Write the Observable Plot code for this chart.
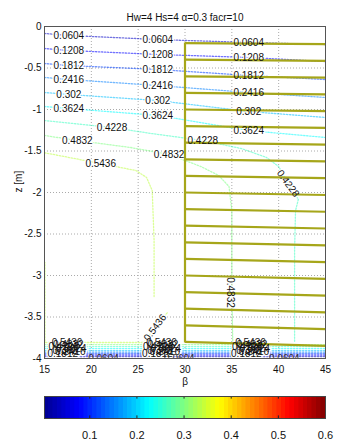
<!DOCTYPE html>
<html>
<head>
<meta charset="utf-8">
<script src="https://cdn.jsdelivr.net/npm/d3@7"></script>
<script src="https://cdn.jsdelivr.net/npm/@observablehq/plot@0.6"></script>
<style>
  body { margin: 0; background: #fff; }
  #chart svg { display: block; }
</style>
</head>
<body>
<div id="chart"></div>
<script>
// Contour levels of the field and axis ticks
const levels = [0.0604, 0.1208, 0.1812, 0.2416, 0.302, 0.3624, 0.4228, 0.4832, 0.5436];
const xTicks = [15, 20, 25, 30, 35, 40, 45];
const yTicks = [0, -0.5, -1, -1.5, -2, -2.5, -3, -3.5, -4];
const xGrid = [20, 25, 30, 35, 40];
const yGrid = [-0.5, -1, -1.5, -2, -2.5, -3, -3.5];
const barTicks = [0.1, 0.2, 0.3, 0.4, 0.5, 0.6];
const barTickLabels = ["0.1", "0.2", "0.3", "0.4", "0.5", "0.6"];

// Contour polylines, [β, z]
const line0604 = [[15, -0.084], [17.6, -0.108], [27.1, -0.157], [36.8, -0.193], [45, -0.217]];
const line1208 = [[15, -0.265], [17.6, -0.289], [27.1, -0.337], [36.8, -0.373], [45, -0.422]];
const line1812 = [[15, -0.446], [17.6, -0.470], [27.1, -0.518], [36.8, -0.590], [45, -0.639]];
const line2416 = [[15, -0.614], [17.6, -0.639], [27.1, -0.711], [36.8, -0.795], [45, -0.855]];
const line3020 = [[15, -0.795], [17.6, -0.819], [27.1, -0.892], [36.8, -1.024], [45, -1.096]];
const line3624 = [[15, -0.964], [17.6, -0.988], [27.1, -1.072], [36.8, -1.253], [45, -1.337]];
const line4228 = [[15, -1.133], [22.2, -1.217], [26.4, -1.289], [31.9, -1.373], [36.0, -1.470], [38.7, -1.578],
                  [40.0, -1.687], [41.0, -1.892], [42.1, -2.084], [41.8, -2.217], [41.7, -2.699], [41.7, -3.807]];
const line4832 = [[15, -1.313], [18.5, -1.373], [24.2, -1.458], [28.3, -1.542], [31.7, -1.687], [33.6, -1.795],
                  [34.7, -1.928], [35.0, -2.217], [35.0, -3.205], [35.1, -3.807]];
const line5436a = [[15, -1.521], [21.0, -1.651], [24.75, -1.735], [25.9, -1.819], [26.5, -1.976], [26.7, -2.578], [26.7, -3.253]];
const line5436b = [[28.1, -3.45], [26.8, -3.627], [25.6, -3.807], [15.05, -3.807], [15.05, -2.843]];

// Thin band of packed contours along the base (levels 0.0604 … 0.4832)
const bandLevels = [0.0604, 0.1208, 0.1812, 0.2416, 0.302, 0.3624, 0.4228, 0.4832];
const bandZ = [-3.976, -3.958, -3.94, -3.922, -3.904, -3.88, -3.856, -3.832];

// Inline contour labels
const labelLevel = [0.0604, 0.0604, 0.0604, 0.1208, 0.1208, 0.1208, 0.1812, 0.1812, 0.1812,
                    0.2416, 0.2416, 0.2416, 0.302, 0.302, 0.302, 0.3624, 0.3624, 0.3624,
                    0.4228, 0.4228, 0.4228, 0.4832, 0.4832, 0.4832, 0.5436, 0.5436];
const labelBeta = [17.6, 27.1, 36.8, 17.6, 27.1, 36.8, 17.6, 27.1, 36.8,
                   17.6, 27.1, 36.8, 17.6, 27.1, 36.8, 17.6, 27.1, 36.8,
                   22.2, 31.9, 41.0, 18.5, 28.3, 34.8, 21.0, 26.8];
const labelZ = [-0.108, -0.157, -0.193, -0.289, -0.337, -0.373, -0.470, -0.518, -0.590,
                -0.639, -0.711, -0.795, -0.819, -0.892, -1.024, -0.988, -1.072, -1.253,
                -1.217, -1.373, -1.892, -1.373, -1.542, -3.205, -1.651, -3.627];
const labelAngle = [0, 0, 0, 0, 0, 0, 0, 0, 0, 0, 0, 0, 0, 0, 0, 0, 0, 0,
                    0, 0, 54, 0, 0, 90, 0, -53];

// Crowded labels on the base band
const clutterBeta = [17.4, 27.5, 37.0];
const clutterLevels = [0.1812, 0.2416, 0.302, 0.3624, 0.4228, 0.4832, 0.5436];
const clutterZ = [-3.94, -3.922, -3.904, -3.88, -3.856, -3.832, -3.81];
const clutterShift = [-0.45, 0.35, -0.2, 0.45, -0.35, 0.15, 0.0];
const edgeLabelBeta = [21.3, 29.4, 40.6];
const edgeLabelZ = -4.0;

// Wall and nails
const wallBeta = 30;
const wallTop = -0.193;
const wallBottom = -3.807;
const nailEndBeta = 45;
const nailHeadZ = [-0.2, -0.4, -0.6, -0.8, -1.0, -1.2, -1.4, -1.6, -1.8, -2.0,
                   -2.2, -2.4, -2.6, -2.8, -3.0, -3.2, -3.4, -3.6, -3.8];
const nailTipZ = [-0.212, -0.414, -0.616, -0.818, -1.02, -1.222, -1.424, -1.626, -1.828, -2.03,
                  -2.232, -2.434, -2.636, -2.838, -3.04, -3.242, -3.444, -3.646, -3.848];

// MATLAB "jet" colormap
const jet = d3.scaleLinear()
  .domain([0, 0.125, 0.375, 0.625, 0.875, 1])
  .range(["#00008f", "#0000ff", "#00ffff", "#ffff00", "#ff0000", "#800000"])
  .clamp(true);

// Build tables for the marks
const segments = [
  [0.0604, line0604], [0.1208, line1208], [0.1812, line1812], [0.2416, line2416],
  [0.302, line3020], [0.3624, line3624], [0.4228, line4228], [0.4832, line4832],
  [0.5436, line5436a], [0.5436, line5436b]
];
const contourRows = [];
segments.forEach(([level, pts], i) => pts.forEach(([b, z]) => contourRows.push({seg: "s" + i, level, b, z})));
bandLevels.forEach((level, i) => {
  contourRows.push({seg: "band" + i, level, b: 15, z: bandZ[i]});
  contourRows.push({seg: "band" + i, level, b: 45, z: bandZ[i]});
});

const labels = labelLevel.map((level, i) => ({text: String(level), b: labelBeta[i], z: labelZ[i], angle: labelAngle[i]}));
clutterBeta.forEach(cb => clutterLevels.forEach((level, i) =>
  labels.push({text: String(level), b: cb + clutterShift[i], z: clutterZ[i], angle: 0})));
const edgeLabels = edgeLabelBeta.map(b => ({text: "0.0604", b, z: edgeLabelZ}));

const nails = nailHeadZ.map((z, i) => ({z1: z, z2: nailTipZ[i]}));

const font = "'Liberation Sans', Arial, sans-serif";
const olive = "#a6a61a";

const main = Plot.plot({
  width: 340,
  height: 392,
  marginLeft: 44,
  marginRight: 15,
  marginTop: 26,
  marginBottom: 34,
  style: {fontFamily: font, fontSize: "10px", background: "#fff", overflow: "visible"},
  x: {domain: [15, 45], axis: null},
  y: {domain: [-4, 0], axis: null},
  color: {type: "linear", domain: [0, 0.97], interpolate: t => jet(t)},
  marks: [
    Plot.gridX(xGrid, {stroke: "#aaa", strokeOpacity: 1, strokeDasharray: "1,2"}),
    Plot.gridY(yGrid, {stroke: "#aaa", strokeOpacity: 1, strokeDasharray: "1,2"}),
    Plot.line(contourRows, {x: "b", y: "z", z: "seg", stroke: "level", strokeWidth: 1.3,
      strokeDasharray: "1.4,1.6", strokeOpacity: 0.55, clip: true}),
    Plot.text(labels, {x: "b", y: "z", text: "text", rotate: "angle", fill: "white",
      stroke: "white", strokeWidth: 2.5, fontSize: 10}),
    Plot.link(nails, {x1: wallBeta, x2: nailEndBeta, y1: "z1", y2: "z2", stroke: olive, strokeWidth: 2.2}),
    Plot.link([0], {x1: wallBeta, x2: wallBeta, y1: wallTop, y2: wallBottom, stroke: olive, strokeWidth: 2.2}),
    Plot.text(labels, {x: "b", y: "z", text: "text", rotate: "angle", fill: "#111", fontSize: 10}),
    Plot.text(edgeLabels, {x: "b", y: "z", text: "text", fill: "#333", fontSize: 10, clip: true}),
    Plot.frame({stroke: "#555"}),
    Plot.axisX(xTicks, {anchor: "bottom", tickSize: 0, tickPadding: 7, tickFormat: d => String(d),
      label: null, fontSize: 10, fill: "#111"}),
    Plot.axisY(yTicks, {anchor: "left", tickSize: 0, tickPadding: 3, tickFormat: d => String(d),
      label: null, fontSize: 10, fill: "#111"}),
    Plot.text(["Hw=4 Hs=4 α=0.3 facr=10"], {frameAnchor: "top", dy: -13, fontSize: 10, fill: "#111"}),
    Plot.text(["z [m]"], {frameAnchor: "left", dx: -26, rotate: -90, fontSize: 10, fill: "#111"}),
    Plot.text(["β"], {frameAnchor: "bottom", dy: 26, fontSize: 10, fill: "#111"})
  ]
});

// Colour bar with jet ramp
const barMin = 0.004, barMax = 0.6, nCells = 64;
const cells = d3.range(nCells).map(i => {
  const x1 = barMin + (barMax - barMin) * i / nCells;
  const x2 = barMin + (barMax - barMin) * (i + 1) / nCells;
  return {x1, x2, v: (x1 + x2) / 2};
});

const bar = Plot.plot({
  width: 340,
  height: 49,
  marginLeft: 44,
  marginRight: 15,
  marginTop: 4,
  marginBottom: 23,
  style: {fontFamily: font, fontSize: "11px", background: "#fff", overflow: "visible"},
  x: {domain: [barMin, barMax], axis: null},
  y: {domain: [0, 1], axis: null},
  color: {type: "linear", domain: [barMin, barMax], interpolate: t => jet(t)},
  marks: [
    Plot.rect(cells, {x1: "x1", x2: "x2", y1: 0, y2: 1, fill: "v", shapeRendering: "crispEdges", stroke: "v", strokeWidth: 0.6}),
    Plot.ruleX(barTicks, {y1: 0, y2: 0.12, stroke: "#222"}),
    Plot.ruleX(barTicks, {y1: 0.88, y2: 1, stroke: "#222"}),
    Plot.frame({stroke: "#444"}),
    Plot.text(barTicks, {x: d => d, text: (d, i) => barTickLabels[i], frameAnchor: "bottom", dy: 20, fontSize: 11, fill: "#111"})
  ]
});

const chart = document.getElementById("chart");
chart.append(main, bar);
</script>
</body>
</html>
